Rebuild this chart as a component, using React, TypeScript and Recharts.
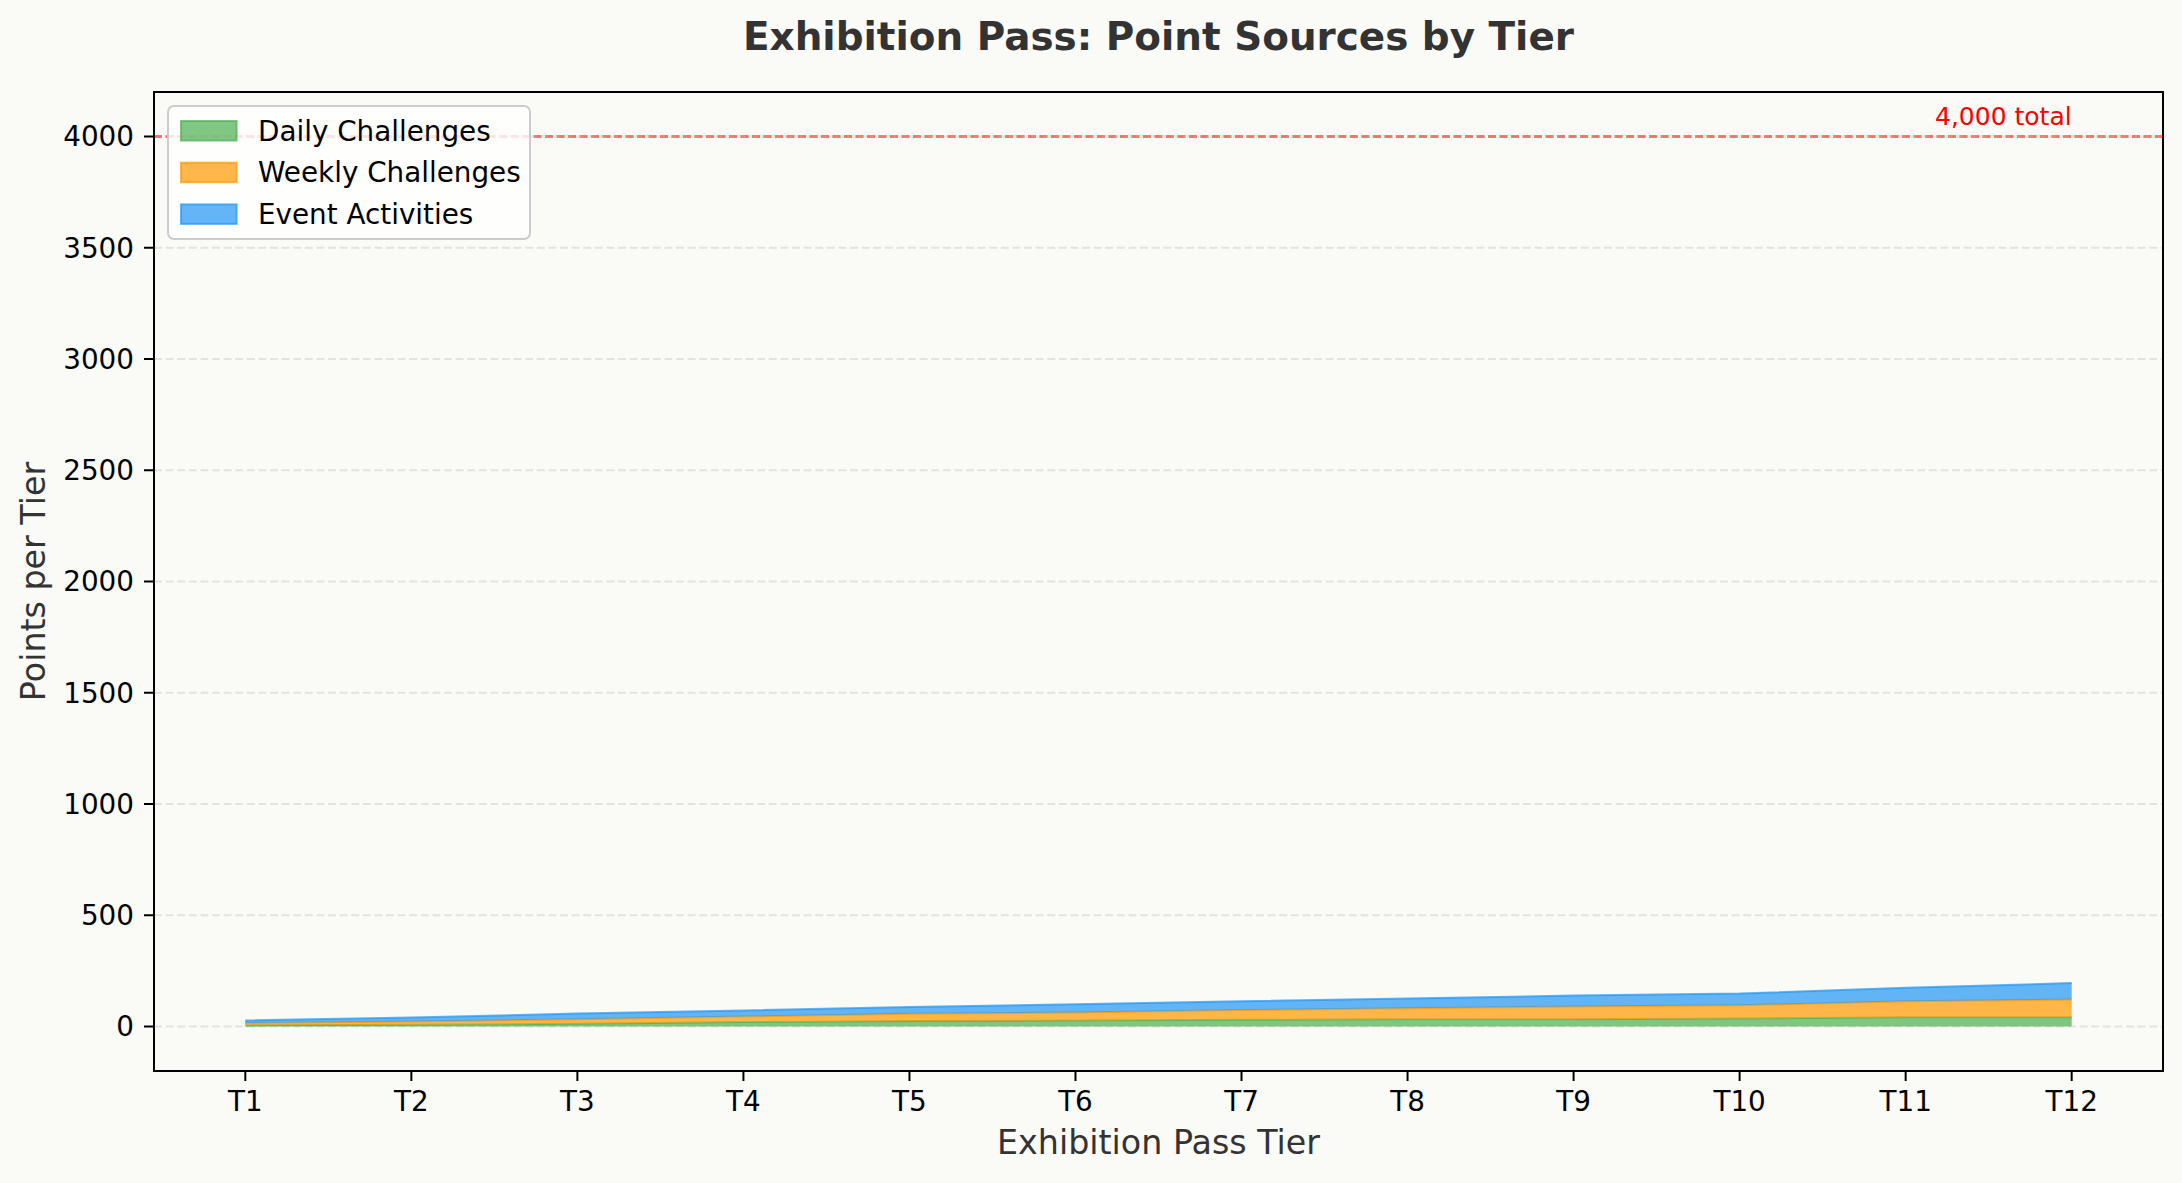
import { Area, AreaChart, CartesianGrid, ReferenceArea, ReferenceDot, ReferenceLine, XAxis, YAxis } from "recharts";

// Tier labels on the x axis.
const TIERS = ["T1", "T2", "T3", "T4", "T5", "T6", "T7", "T8", "T9", "T10", "T11", "T12"];

// Points per tier for each source.
const DAILY = [5, 8, 12, 20, 25, 27, 30, 33, 33, 36, 42, 42];
const WEEKLY = [10, 14, 21, 25, 32, 36, 44, 49, 57, 59, 72, 79];
const EVENT = [12, 18, 25, 27, 31, 37, 40, 44, 49, 53, 60, 74];

const Y_TICKS = [0, 500, 1000, 1500, 2000, 2500, 3000, 3500, 4000];
const TOTAL_TARGET = 4000;
const X_DOMAIN = [-0.55, 11.55];
const Y_DOMAIN = [-200, 4200];

const SERIES = [
  { key: "daily", name: "Daily Challenges", color: "#4CAF50" },
  { key: "weekly", name: "Weekly Challenges", color: "#FF9800" },
  { key: "event", name: "Event Activities", color: "#2196F3" },
];

const data = TIERS.map((tier, i) => ({
  idx: i,
  tier,
  daily: DAILY[i],
  weekly: WEEKLY[i],
  event: EVENT[i],
}));

const BG = "#fafaf6";
const FONT = "'DejaVu Sans', sans-serif";
const W = 2182;
const H = 1183;

export default function App() {
  return (
    <div
      style={{
        position: "absolute",
        left: 0,
        top: 0,
        width: W,
        height: H,
        background: BG,
        fontFamily: FONT,
        overflow: "hidden",
      }}
    >
      <AreaChart
        width={W}
        height={H}
        data={data}
        margin={{ top: 92, right: 19, bottom: 52, left: 54 }}
      >
        <CartesianGrid
          horizontal
          vertical={false}
          stroke="#b0b0b0"
          strokeOpacity={0.3}
          strokeWidth={2}
          strokeDasharray="8 3.6"
        />
        <XAxis
          dataKey="idx"
          type="number"
          domain={X_DOMAIN}
          ticks={TIERS.map((_, i) => i)}
          tickFormatter={(i: number) => TIERS[i]}
          height={60}
          tickSize={10}
          tickMargin={10}
          axisLine={{ stroke: "#000", strokeWidth: 2 }}
          tickLine={{ stroke: "#000", strokeWidth: 2 }}
          tick={{ fill: "#000", fontSize: 27.8, fontFamily: FONT }}
          allowDataOverflow
        />
        <YAxis
          type="number"
          domain={Y_DOMAIN}
          ticks={Y_TICKS}
          width={100}
          tickSize={10}
          tickMargin={10}
          axisLine={{ stroke: "#000", strokeWidth: 2 }}
          tickLine={{ stroke: "#000", strokeWidth: 2 }}
          tick={{ fill: "#000", fontSize: 27.8, fontFamily: FONT }}
          allowDataOverflow
        />
        <ReferenceLine
          y={TOTAL_TARGET}
          stroke="#ff0000"
          strokeOpacity={0.5}
          strokeWidth={2.8}
          strokeDasharray="8 3.5"
        />
        <ReferenceDot
          x={TIERS.length - 1}
          y={TOTAL_TARGET + 50}
          r={0}
          shape={(p: any) => (
            <text
              x={p.cx}
              y={p.cy}
              textAnchor="end"
              fill="#ff0000"
              fontSize={25}
              fontFamily={FONT}
            >
              4,000 total
            </text>
          )}
        />
        {SERIES.map((s) => (
          <Area
            key={s.key}
            dataKey={s.key}
            name={s.name}
            stackId="pts"
            type="linear"
            fill={s.color}
            fillOpacity={0.7}
            stroke={s.color}
            strokeOpacity={0.7}
            strokeWidth={2}
            isAnimationActive={false}
          />
        ))}
        {/* plot frame (all four spines) */}
        <ReferenceArea
          x1={X_DOMAIN[0]}
          x2={X_DOMAIN[1]}
          y1={Y_DOMAIN[0]}
          y2={Y_DOMAIN[1]}
          fill="none"
          fillOpacity={0}
          stroke="#000"
          strokeWidth={2}
          strokeOpacity={1}
          ifOverflow="visible"
        />
      </AreaChart>

      <svg
        width={W}
        height={H}
        style={{ position: "absolute", left: 0, top: 0, pointerEvents: "none" }}
      >
        <text
          x={1158.5}
          y={50}
          textAnchor="middle"
          fontSize={38.9}
          fontWeight="bold"
          fill="#333"
          fontFamily={FONT}
        >
          Exhibition Pass: Point Sources by Tier
        </text>
        <text
          x={1158.5}
          y={1154}
          textAnchor="middle"
          fontSize={33.3}
          fill="#333"
          fontFamily={FONT}
        >
          Exhibition Pass Tier
        </text>
        <text
          transform="translate(45, 581.5) rotate(-90)"
          textAnchor="middle"
          fontSize={33.3}
          fill="#333"
          fontFamily={FONT}
        >
          Points per Tier
        </text>

        {/* legend, upper left */}
        <rect
          x={168}
          y={106}
          width={362}
          height={133}
          rx={6}
          fill="#ffffff"
          fillOpacity={0.8}
          stroke="#cccccc"
          strokeWidth={2}
        />
        {SERIES.map((s, i) => (
          <g key={s.key}>
            <rect
              x={181}
              y={121 + i * 41.7}
              width={55.6}
              height={19.5}
              fill={s.color}
              fillOpacity={0.7}
              stroke={s.color}
              strokeOpacity={0.7}
              strokeWidth={2}
            />
            <text
              x={258}
              y={140.5 + i * 41.7}
              fontSize={27.8}
              fill="#000"
              fontFamily={FONT}
            >
              {s.name}
            </text>
          </g>
        ))}
      </svg>
    </div>
  );
}
